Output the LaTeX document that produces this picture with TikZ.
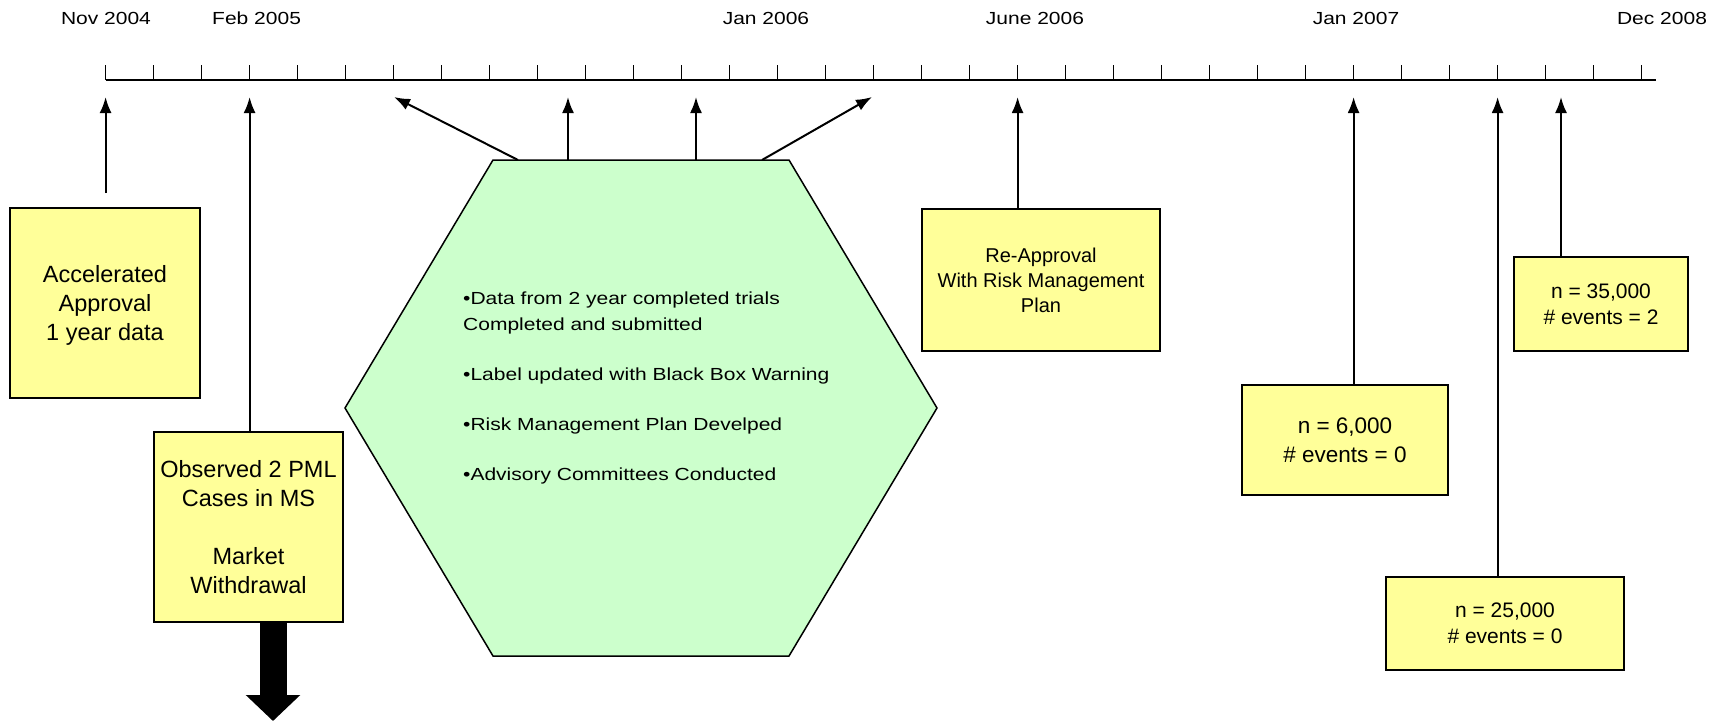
\documentclass[tikz,border=0pt]{standalone}
\usepackage{fontspec}
\setmainfont{Liberation Sans}
\newfontfamily\breitFont[FakeStretch=1.2]{Liberation Sans}
\usepackage{tikz}
\usetikzlibrary{arrows.meta,calc,positioning}
\definecolor{gelb}{HTML}{FFFF99}
\definecolor{hellgruen}{HTML}{CCFFCC}
\tikzset{
  kasten/.style={draw=black,line width=2pt,fill=gelb,align=center,inner sep=0pt},
  pfeil/.style={line width=2pt,-{Latex[length=16pt,width=12pt]}},
  datum/.style={font=\breitFont\fontsize{17.5}{20}\selectfont,inner sep=0pt},
}
\begin{document}
\begin{tikzpicture}[x=1pt,y=-1pt]
%Alle Masse in Pixeln des Bildes, die y-Achse zeigt nach unten.
%Zeitachse: 33 Striche im Abstand von 48 px, erster Strich = Nov 2004,
%Feb 2005 = Strich 3, June 2006 = Strich 19, Jan 2007 = Strich 26.
  \pgfmathsetmacro{\xStart}{105.6}
  \pgfmathsetmacro{\dx}{48}
  \pgfmathsetmacro{\yAchse}{80}
  \pgfmathsetmacro{\ySpitze}{97}
\useasboundingbox (0,0) rectangle (1725,721);
\draw[line width=2pt] (\xStart,\yAchse) -- (1656,\yAchse);
\foreach \i in {0,...,32}{
\draw[line width=1.5pt] (\xStart+\i*\dx,\yAchse) -- ++(0,-15);
}
%Beschriftung der Zeitachse
\node[datum] (datNov04) at (106,18) {Nov 2004};
\node[datum] (datFeb05) at (256.6,18) {Feb 2005};
\node[datum] (datJan06) at (766,18) {Jan 2006};
\node[datum] (datJun06) at (1035,18) {June 2006};
\node[datum] (datJan07) at (1356,18) {Jan 2007};
\node[datum] (datDez08) at (1662,18) {Dec 2008};
%Pfeilspitzen unter der Achse
\coordinate (sNov) at (\xStart,\ySpitze);
\coordinate (sFeb) at (\xStart+3*\dx,\ySpitze);
\coordinate (sJun) at (\xStart+19*\dx,\ySpitze);
\coordinate (sJan) at (\xStart+26*\dx,\ySpitze);
\coordinate (s25) at (\xStart+29*\dx,\ySpitze);
\coordinate (s35) at (1561,\ySpitze);
\coordinate (sHexA) at (394,\ySpitze);
\coordinate (sHexB) at (568,\ySpitze);
\coordinate (sHexC) at (696,\ySpitze);
\coordinate (sHexD) at (872,\ySpitze);
%Sechseck
\coordinate (hexL) at (345,408);
\coordinate (hexOL) at (493,160);
\coordinate (hexOR) at (789,160);
\coordinate (hexR) at (937,408);
\coordinate (hexUR) at (789,656);
\coordinate (hexUL) at (493,656);
\draw[line width=1.5pt,fill=hellgruen] (hexL) -- (hexOL) -- (hexOR) -- (hexR) -- (hexUR) -- (hexUL) -- cycle;
\node[font=\breitFont\fontsize{17.5}{26}\selectfont,align=left,anchor=west,inner sep=0pt] (hexText) at (463,388)
  {\textbullet Data from 2 year completed trials\\Completed and submitted\\[24pt]
   \textbullet Label updated with Black Box Warning\\[24pt]
   \textbullet Risk Management Plan Develped\\[24pt]
   \textbullet Advisory Committees Conducted};
\coordinate (hexA) at (518,160);
\coordinate (hexB) at (568,160);
\coordinate (hexC) at (696,160);
\coordinate (hexD) at (762,160);
\draw[pfeil] (hexA) -- (sHexA);
\draw[pfeil] (hexB) -- (sHexB);
\draw[pfeil] (hexC) -- (sHexC);
\draw[pfeil] (hexD) -- (sHexD);
%Kaesten
\node[kasten,minimum width=190pt,minimum height=190pt,text depth=-2pt,font=\fontsize{23.5}{29}\selectfont] (accBox) at (105,303)
  {Accelerated\\Approval\\1 year data};
\node[kasten,minimum width=189pt,minimum height=190pt,font=\fontsize{23.5}{29}\selectfont] (obsBox) at (248.5,527)
  {Observed 2 PML\\Cases in MS\\[29pt]Market\\Withdrawal};
\node[kasten,minimum width=238pt,minimum height=142.6pt,font=\fontsize{20}{25}\selectfont] (reBox) at (1041,280)
  {Re-Approval\\With Risk Management\\Plan};
\node[kasten,minimum width=206pt,minimum height=109.7pt,font=\fontsize{22.5}{28.7}\selectfont] (box6k) at (1345,440)
  {n = 6,000\\\# events = 0};
\node[kasten,minimum width=238pt,minimum height=93pt,font=\fontsize{21}{26}\selectfont] (box25k) at (1505,623.4)
  {n = 25,000\\\# events = 0};
\node[kasten,minimum width=174.6pt,minimum height=93.7pt,font=\fontsize{21}{26}\selectfont] (box35k) at (1601,303.9)
  {n = 35,000\\\# events = 2};
%Pfeile zur Zeitachse
\draw[pfeil] ([yshift=14pt]accBox.north -| sNov) -- (sNov);
\draw[pfeil] (obsBox.north -| sFeb) -- (sFeb);
\draw[pfeil] (reBox.north -| sJun) -- (sJun);
\draw[pfeil] (box6k.north -| sJan) -- (sJan);
\draw[pfeil] (box25k.north -| s25) -- (s25);
\draw[pfeil] (box35k.north -| s35) -- (s35);
%Marktruecknahme
\coordinate (rueckzug) at (273,721);
\draw[line width=27pt,-{Triangle[length=26pt,width=53pt]}] (obsBox.south -| rueckzug) -- (rueckzug);
\end{tikzpicture}
\end{document}
